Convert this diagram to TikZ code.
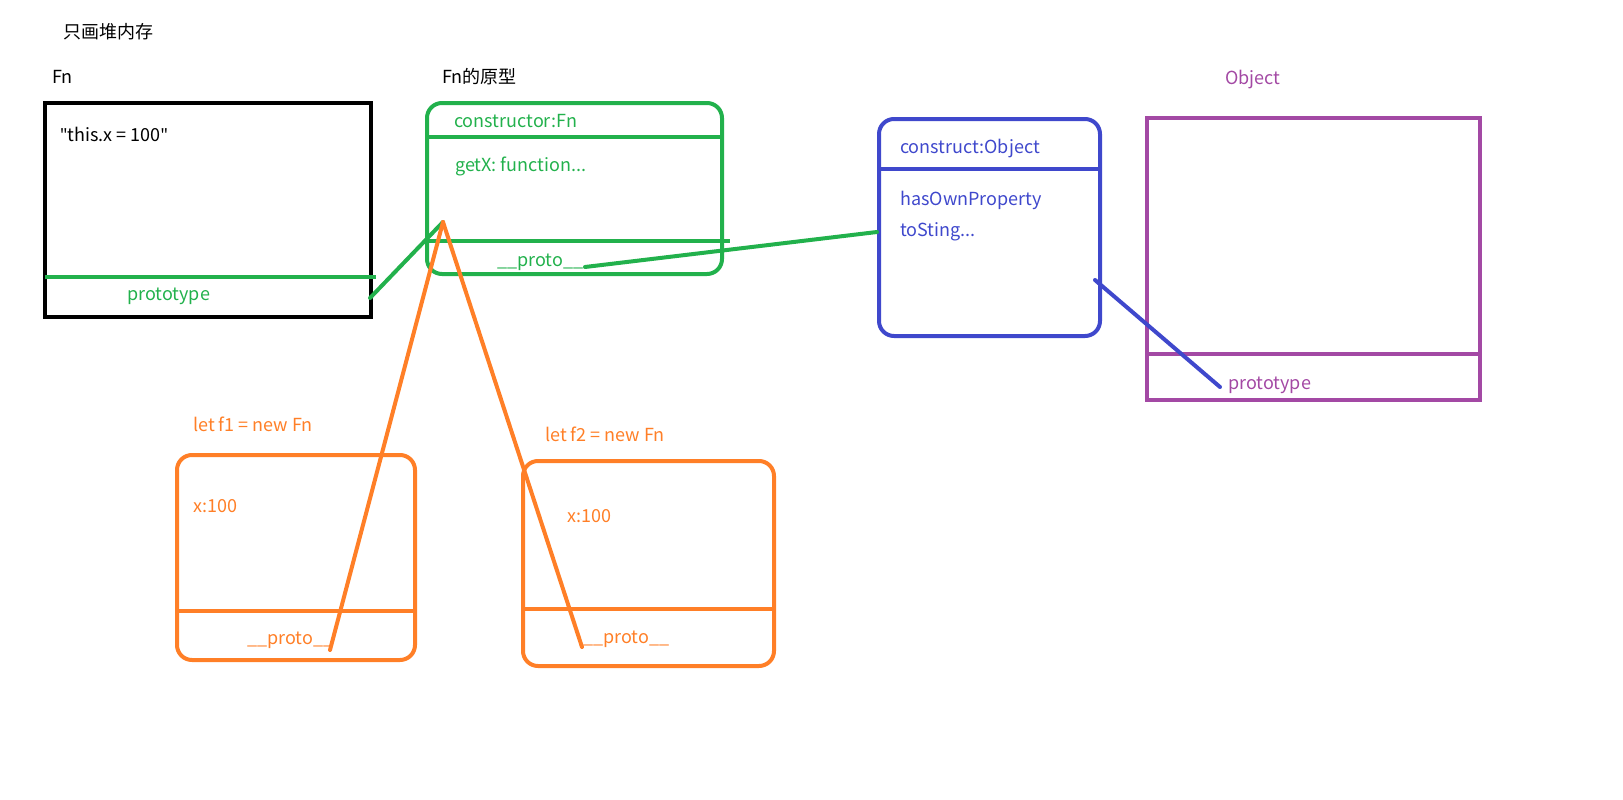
\documentclass[tikz,border=0pt]{standalone}
\usepackage{fontspec}
\setmainfont{Noto Sans CJK SC}
\newfontfamily\quotefont{Noto Sans}
\definecolor{pgreen}{HTML}{22B14C}
\definecolor{porange}{HTML}{FF7F27}
\definecolor{pblue}{HTML}{3F48CC}
\definecolor{ppurple}{HTML}{A349A4}
\tikzset{
  box/.style={draw, line width=4pt, inner sep=0pt, rectangle},
  rbox/.style={box, rounded corners=15pt},
  lbl/.style={anchor=west, inner sep=0pt, font=\fontsize{18}{20}\selectfont},
  divider/.style={line width=4pt},
  link/.style={line width=4pt, line cap=round},
}
\begin{document}
\begin{tikzpicture}[x=1pt,y=-1pt]
\useasboundingbox (0,0) rectangle (1623,800);
% titles
\node[lbl] (title) at (63,32) {只画堆内存};
\node[lbl] (fnlbl) at (52,77) {Fn};
\node[lbl] (protolbl) at (442,77) {Fn的原型};
\node[lbl, text=ppurple] (objlbl) at (1225,80) {Object};
\node[lbl, text=porange] (f1lbl) at (193,424) {let f1 = new Fn};
\node[lbl, text=porange] (f2lbl) at (545,434) {let f2 = new Fn};

% Fn box
\node[box, draw=black, line width=4.5pt, minimum width=326pt, minimum height=214pt] (fn) at (208,210) {};
\coordinate (fnL) at (45,277);
\coordinate (fnR) at (376,277);
\draw[divider, pgreen] (fnL) -- (fnR);
\node[lbl] (fnbody) at (60,134) {{\quotefont"}this.x = 100{\quotefont"}};
\node[lbl, text=pgreen] (fnproto) at (127,296) {prototype};

% Fn prototype box
\node[rbox, draw=pgreen, minimum width=295pt, minimum height=171pt] (fp) at (574.5,188.5) {};
\draw[divider, pgreen] (fp.west |- 0,137) -- (fp.east |- 0,137);
\coordinate (fpL) at (427,241);
\coordinate (fpR) at (730,241);
\draw[divider, pgreen] (fpL) -- (fpR);
\node[lbl, text=pgreen] (fpc) at (454,121) {constructor:Fn};
\node[lbl, text=pgreen] (fpg) at (455,166) {getX: function...};
\node[lbl, text=pgreen] (fpp) at (497,262) {\_\_proto\_\_};

% Object prototype box
\node[rbox, draw=pblue, minimum width=221pt, minimum height=217pt] (op) at (989.5,227.5) {};
\draw[divider, pblue] (op.west |- 0,169) -- (op.east |- 0,169);
\node[lbl, text=pblue] (opc) at (900,149) {construct:Object};
\node[lbl, text=pblue] (oph) at (900,200) {hasOwnProperty};
\node[lbl, text=pblue] (opt) at (900,232) {toSting...};

% Object box
\node[box, draw=ppurple, minimum width=333pt, minimum height=282pt] (obj) at (1313.5,259) {};
\coordinate (objL) at (1147,354);
\coordinate (objR) at (1482,354);
\draw[divider, ppurple] (objL) -- (objR);
\node[lbl, text=ppurple] (objp) at (1228,385) {prototype};

% f1 box
\node[rbox, draw=porange, minimum width=238pt, minimum height=205pt] (f1) at (296,557.5) {};
\draw[divider, porange] (f1.west |- 0,611) -- (f1.east |- 0,611);
\node[lbl, text=porange] (f1x) at (193,506) {x:100};
\node[lbl, text=porange] (f1p) at (247,640) {\_\_proto\_\_};

% f2 box
\node[rbox, draw=porange, minimum width=251pt, minimum height=205pt] (f2) at (648.5,563.5) {};
\draw[divider, porange] (f2.west |- 0,609) -- (f2.east |- 0,609);
\node[lbl, text=porange] (f2x) at (567,516) {x:100};
\node[lbl, text=porange] (f2p) at (583,639) {\_\_proto\_\_};

% connectors
\coordinate (apex) at (443,222);
\coordinate (fnpEnd) at (370,298);
\coordinate (fppStart) at (585,267);
\coordinate (opIn) at (877,232);
\coordinate (opOut) at (1095,280);
\coordinate (objpEnd) at (1220,387);
\coordinate (f1pEnd) at (330,650);
\coordinate (f2pEnd) at (582,647);
\draw[link, pgreen] (fnpEnd) -- (apex);
\draw[link, pgreen] (fppStart) -- (opIn);
\draw[link, pblue] (opOut) -- (objpEnd);
\draw[link, porange] (apex) -- (f1pEnd);
\draw[link, porange] (apex) -- (f2pEnd);
\end{tikzpicture}
\end{document}
